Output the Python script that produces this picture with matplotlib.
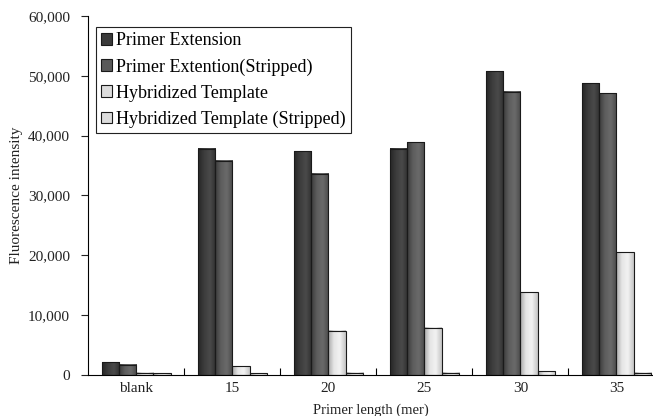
import numpy as np
import matplotlib
matplotlib.use('Agg')
import matplotlib.pyplot as plt
from matplotlib.patches import Patch, Rectangle
from matplotlib.colors import LinearSegmentedColormap
from matplotlib.ticker import FuncFormatter

plt.rcParams['font.family'] = ['Liberation Serif', 'DejaVu Serif']

categories = ['blank', '15', '20', '25', '30', '35']
series = ['Primer Extension', 'Primer Extention(Stripped)',
          'Hybridized Template', 'Hybridized Template (Stripped)']
primer_ext = [2100, 37800, 37400, 37800, 50800, 48800]
primer_ext_stripped = [1700, 35800, 33600, 38900, 47300, 47100]
hyb_template = [400, 1500, 7400, 7900, 13800, 20500]
hyb_template_stripped = [300, 300, 400, 400, 600, 400]
values = [primer_ext, primer_ext_stripped, hyb_template, hyb_template_stripped]

# 每个系列的渐变色(边缘->中间->边缘)
grads = [
    ['#262626', '#3c3c3c', '#4a4a4a', '#303030'],
    ['#3a3a3a', '#5e5e5e', '#6a6a6a', '#4a4a4a'],
    ['#a8a8a8', '#e6e6e6', '#f2f2f2', '#c4c4c4'],
    ['#a8a8a8', '#e6e6e6', '#f2f2f2', '#c4c4c4'],
]
legend_cols = ['#3a3a3a', '#5a5a5a', '#dcdcdc', '#dcdcdc']

fig = plt.figure(figsize=(6.53, 4.16), dpi=100)
ax = fig.add_axes([0.135, 0.0986, 0.865, 0.863])

x = np.arange(len(categories))
w = 0.18
ymax = 60000
for i, vals in enumerate(values):
    cmap = LinearSegmentedColormap.from_list('g%d' % i, grads[i])
    grad = np.linspace(0, 1, 64).reshape(1, -1)
    for j, v in enumerate(vals):
        left = x[j] + (i - 1.5) * w - w / 2
        ax.imshow(grad, cmap=cmap, aspect='auto', extent=(left, left + w, 0, v),
                  origin='lower', zorder=2, interpolation='bilinear')
        ax.add_patch(Rectangle((left, 0), w, v, fill=False, edgecolor='#1a1a1a',
                               linewidth=0.8, zorder=3))

ax.set_xlim(-0.5, 5.38)
ax.set_ylim(0, ymax)
ax.set_yticks(np.arange(0, 60001, 10000))
ax.yaxis.set_major_formatter(FuncFormatter(lambda v, p: '{:,.0f}'.format(v)))
ax.set_xticks(x)
ax.set_xticklabels(categories)
ax.set_xticks(np.arange(0.5, 5.4, 1.0), minor=True)
ax.tick_params(axis='x', which='major', length=0, pad=5, labelsize=11, colors='#222222')
ax.tick_params(axis='x', which='minor', direction='in', length=5, width=0.8)
ax.tick_params(axis='y', direction='out', length=5, width=0.8, pad=8,
               labelsize=11, colors='#222222')
ax.spines['top'].set_visible(False)
ax.spines['right'].set_visible(False)
ax.set_ylabel('Fluorescence intensity', fontsize=11, labelpad=4, color='#222222')
ax.set_xlabel('Primer length (mer)', fontsize=10.5, labelpad=6, color='#222222')

handles = [Patch(facecolor=c, edgecolor='#1a1a1a', linewidth=0.8) for c in legend_cols]
leg = ax.legend(handles, series, loc='upper left', bbox_to_anchor=(0.014, 0.97),
                fontsize=13, fancybox=False, framealpha=1, edgecolor='#222222',
                handlelength=0.6, handleheight=0.6, handletextpad=0.2,
                labelspacing=0.5, borderpad=0.3, borderaxespad=0)
leg.get_frame().set_linewidth(0.8)

fig.savefig('out.png', dpi=100)
